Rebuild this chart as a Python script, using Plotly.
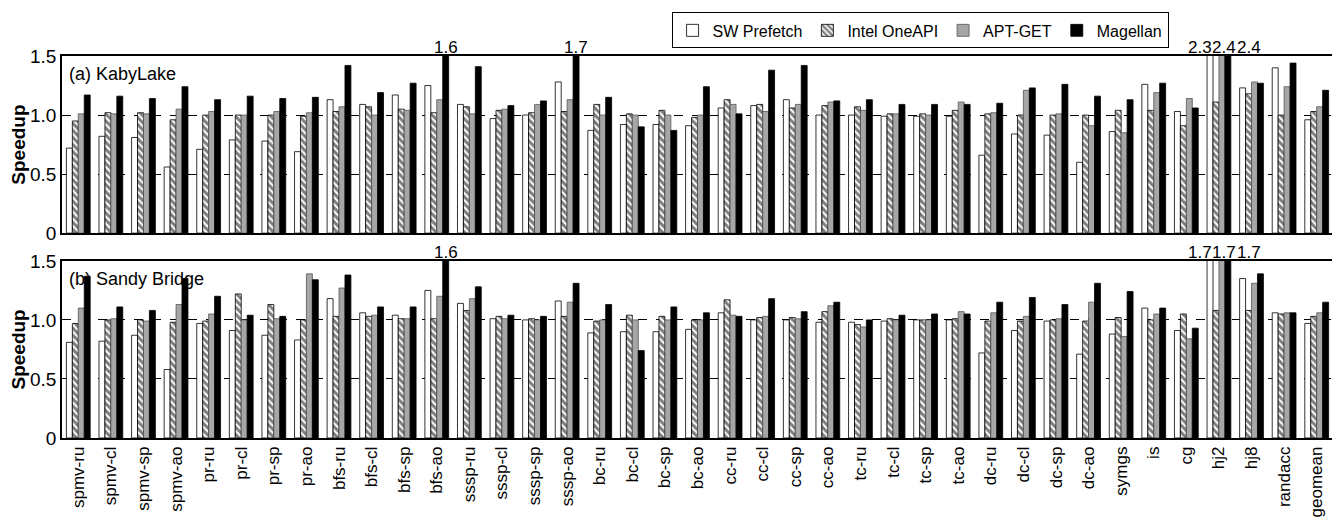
import plotly.graph_objects as go
from plotly.subplots import make_subplots

categories = ["spmv-ru","spmv-cl","spmv-sp","spmv-ao","pr-ru","pr-cl","pr-sp","pr-ao",
              "bfs-ru","bfs-cl","bfs-sp","bfs-ao","sssp-ru","sssp-cl","sssp-sp","sssp-ao",
              "bc-ru","bc-cl","bc-sp","bc-ao","cc-ru","cc-cl","cc-sp","cc-ao",
              "tc-ru","tc-cl","tc-sp","tc-ao","dc-ru","dc-cl","dc-sp","dc-ao",
              "symgs","is","cg","hj2","hj8","randacc","geomean"]

series_names = ["SW Prefetch", "Intel OneAPI", "APT-GET", "Magellan"]

kaby_sw = [0.72,0.82,0.81,0.56,0.71,0.79,0.78,0.69,1.13,1.09,1.17,1.25,1.09,0.97,1.00,1.28,
           0.87,0.92,0.92,0.91,1.06,1.08,1.13,1.00,1.00,0.99,0.99,0.99,0.66,0.84,0.83,0.60,
           0.86,1.26,1.03,2.3,1.23,1.40,0.96]
kaby_oneapi = [0.95,1.02,1.02,0.96,1.00,1.00,1.00,0.99,1.03,1.07,1.05,1.02,1.07,1.04,1.02,1.03,
               1.09,1.01,1.04,0.98,1.13,1.09,1.06,1.08,1.07,1.01,1.01,1.04,1.01,1.00,1.00,1.00,
               1.04,1.04,0.91,1.11,1.18,1.00,1.03]
kaby_aptget = [1.01,1.01,1.01,1.05,1.03,1.00,1.03,1.02,1.07,1.00,1.04,1.13,1.01,1.05,1.09,1.13,
               1.00,1.00,1.00,1.00,1.09,1.03,1.09,1.11,1.04,1.01,1.00,1.11,1.02,1.21,1.01,0.91,
               0.85,1.19,1.14,2.4,1.28,1.24,1.07]
kaby_magellan = [1.17,1.16,1.14,1.24,1.13,1.16,1.14,1.15,1.42,1.19,1.27,1.6,1.41,1.08,1.12,1.7,
                 1.15,0.90,0.87,1.24,1.01,1.38,1.42,1.12,1.13,1.09,1.09,1.09,1.10,1.23,1.26,1.16,
                 1.13,1.27,1.06,2.4,1.27,1.44,1.21]

sandy_sw = [0.81,0.82,0.87,0.58,0.97,0.91,0.87,0.83,1.18,1.06,1.04,1.25,1.14,1.01,1.00,1.16,
            0.89,0.90,0.90,0.92,1.06,1.00,1.00,0.98,0.98,0.99,1.00,1.00,0.72,0.91,0.99,0.71,
            0.88,1.10,0.91,1.7,1.35,1.06,0.97]
sandy_oneapi = [0.97,1.00,1.00,0.98,0.99,1.22,1.13,1.00,1.03,1.03,1.01,1.01,1.08,1.03,1.01,1.03,
                0.99,1.04,1.03,1.00,1.17,1.02,1.02,1.07,0.96,1.01,1.00,1.01,0.99,0.99,1.00,0.99,
                1.02,1.00,1.05,1.08,1.08,1.05,1.03]
sandy_aptget = [1.10,1.01,0.99,1.13,1.05,1.00,1.01,1.39,1.27,1.04,1.01,1.20,1.18,1.01,1.00,1.15,
                1.00,1.00,1.00,1.00,1.04,1.03,1.01,1.12,0.94,1.00,1.00,1.07,1.06,1.03,1.01,1.15,
                0.86,1.05,0.84,1.7,1.31,1.06,1.06]
sandy_magellan = [1.37,1.11,1.08,1.35,1.20,1.04,1.03,1.34,1.38,1.11,1.11,1.6,1.28,1.04,1.03,1.31,
                  1.13,0.74,1.11,1.06,1.03,1.18,1.07,1.15,1.00,1.04,1.05,1.05,1.15,1.19,1.13,1.31,
                  1.24,1.10,0.93,1.7,1.39,1.06,1.15]

y_tick_vals = [0, 0.5, 1.0, 1.5]
y_tick_text = ["0", "0.5", "1.0", "1.5"]
panel_titles = ["(a) KabyLake", "(b) Sandy Bridge"]
y_max = 1.5

FONT = "Liberation Sans Narrow, Arial Narrow, Liberation Sans, Arial, sans-serif"

styles = [
    dict(color="white", line=dict(color="black", width=0.8)),
    dict(color="white", line=dict(color="black", width=0.8),
         pattern=dict(shape="\\", fgcolor="black", bgcolor="white", size=5, solidity=0.6, fillmode="overlay")),
    dict(color="#a6a6a6", line=dict(color="#555555", width=0.8)),
    dict(color="black", line=dict(color="black", width=0.8)),
]

fig = make_subplots(rows=2, cols=1, shared_xaxes=False, vertical_spacing=0.0725)

panels = [
    [kaby_sw, kaby_oneapi, kaby_aptget, kaby_magellan],
    [sandy_sw, sandy_oneapi, sandy_aptget, sandy_magellan],
]

for r, data in enumerate(panels, start=1):
    for k, (name, vals) in enumerate(zip(series_names, data)):
        fig.add_trace(go.Bar(x=categories, y=vals, name=name, marker=styles[k],
                             showlegend=(r == 1), legendgroup=name), row=r, col=1)

# labels for clipped bars
bar_px = 6.0
for r, data in enumerate(panels, start=1):
    sfx = '' if r == 1 else str(r)
    for ci, cat in enumerate(categories):
        clipped = [(k, data[k][ci]) for k in range(4) if data[k][ci] > y_max]
        n = len(clipped)
        for j, (k, v) in enumerate(clipped):
            if n == 1:
                shift = (k - 1.5) * bar_px
            else:
                shift = -19 + j * 24.5
            fig.add_annotation(x=cat, y=y_max, xref=f"x{sfx}", yref=f"y{sfx}", text=f"{v:.1f}",
                               showarrow=False, yanchor="bottom", xshift=shift, yshift=-3,
                               font=dict(family=FONT, size=17, color="black"))
    fig.add_annotation(x=0.004, y=1, xref=f"x{sfx} domain", yref=f"y{sfx} domain",
                       text=panel_titles[r - 1], showarrow=False, xanchor="left", yanchor="top",
                       yshift=-6, font=dict(family=FONT, size=18, color="black"))

fig.update_yaxes(range=[0, y_max], tickvals=y_tick_vals, ticktext=y_tick_text,
                 showgrid=True, gridcolor="black", griddash="dash", gridwidth=1,
                 zeroline=False, showline=True, linecolor="black", linewidth=1.6, mirror=True,
                 ticks="", tickfont=dict(family=FONT, size=19, color="black"),
                 title=dict(text="<b>Speedup</b>", font=dict(family=FONT, size=19, color="black"), standoff=4))
fig.update_xaxes(showline=True, linecolor="black", linewidth=1.6, mirror=True, ticks="",
                 showgrid=False, tickangle=-90,
                 tickfont=dict(family=FONT, size=17, color="black"))
fig.update_xaxes(showticklabels=False, row=1, col=1)

fig.update_layout(
    width=1332, height=519,
    margin=dict(l=53, r=5, t=44, b=89),
    barmode="group", bargap=0.27, bargroupgap=0,
    plot_bgcolor="white", paper_bgcolor="white",
    font=dict(family=FONT, color="black"),
    legend=dict(orientation="h", x=0.4796, y=1.114, xanchor="left", yanchor="top",
                bordercolor="black", borderwidth=1, font=dict(family=FONT, size=16),
                itemwidth=30, tracegroupgap=0, traceorder="normal"),
)

fig.write_html("out.html")
